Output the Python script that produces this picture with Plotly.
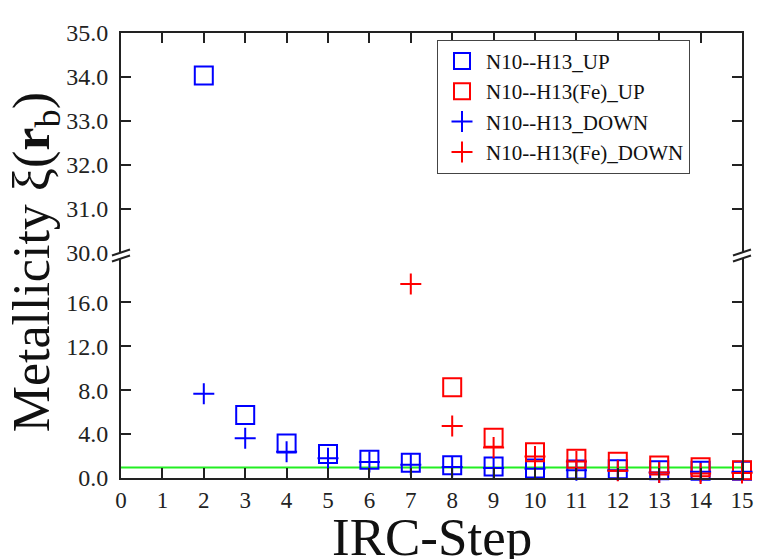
import plotly.graph_objects as go

# ---- data ----
steps_blue = [2, 3, 4, 5, 6, 7, 8, 9, 10, 11, 12, 13, 14, 15]
n10_h13_up = [34.03, 5.75, 3.14, 2.19, 1.66, 1.39, 1.16, 1.04, 0.86, 0.77, 0.80, 0.71, 0.67, 0.67]
n10_h13_down = [7.67, 3.61, 2.40, 1.81, 1.45, 1.21, 1.00, 0.92, 0.85, 0.70, 0.71, 0.50, 0.56, 0.56]
steps_fe_up = [8, 9, 10, 11, 12, 13, 14, 15]
n10_h13_fe_up = [8.27, 3.67, 2.34, 1.75, 1.48, 1.15, 0.98, 0.71]
steps_fe_down = [7, 8, 9, 10, 11, 12, 13, 14, 15]
n10_h13_fe_down = [17.66, 4.74, 2.78, 1.96, 1.51, 0.65, 0.50, 0.40, 0.45]
ref_x = [0, 15]
ref_y = [0.95, 0.95]

lower_range = [0, 20]
upper_range = [30, 35]
lower_ticks = [0, 4, 8, 12, 16]
upper_ticks = [30, 31, 32, 33, 34, 35]
x_ticks = list(range(0, 16))

FONT = "Liberation Serif"
BLUE = "#0000ff"
RED = "#ff0000"
AX = "#222222"

series = [
    ("N10--H13_UP", steps_blue, n10_h13_up, BLUE, "square-open", 18),
    ("N10--H13(Fe)_UP", steps_fe_up, n10_h13_fe_up, RED, "square-open", 18),
    ("N10--H13_DOWN", steps_blue, n10_h13_down, BLUE, "cross-thin-open", 15),
    ("N10--H13(Fe)_DOWN", steps_fe_down, n10_h13_fe_down, RED, "cross-thin-open", 15),
]

fig = go.Figure()
fig.add_trace(go.Scatter(x=ref_x, y=ref_y, mode="lines", line=dict(color="#22ee22", width=2),
                         showlegend=False, hoverinfo="skip", xaxis="x", yaxis="y"))

for name, xs, ys, col, sym, sz in series:
    lo = [(x, y) for x, y in zip(xs, ys) if y <= lower_range[1]]
    hi = [(x, y) for x, y in zip(xs, ys) if y >= upper_range[0]]
    mk = dict(symbol=sym, size=sz, color=col, line=dict(color=col, width=2))
    fig.add_trace(go.Scatter(x=[p[0] for p in lo], y=[p[1] for p in lo], mode="markers",
                             name=name, marker=mk, legendgroup=name, cliponaxis=False,
                             xaxis="x", yaxis="y"))
    if hi:
        fig.add_trace(go.Scatter(x=[p[0] for p in hi], y=[p[1] for p in hi], mode="markers",
                                 name=name, marker=mk, legendgroup=name, showlegend=False,
                                 cliponaxis=False, xaxis="x2", yaxis="y2"))

# page has an 8px body margin, so the figure is drawn 8px smaller and offset
OFF = 8
H_PLOT = 456
low_top = 225 / H_PLOT
up_bot = (478 - 247) / H_PLOT

common_y = dict(showline=True, linecolor=AX, linewidth=2, mirror="ticks", ticks="inside",
                ticklen=10, tickwidth=2, tickcolor=AX, showgrid=False, zeroline=False,
                tickformat=".1f", tickfont=dict(family=FONT, size=24, color=AX),
                ticklabelstandoff=6)

fig.update_layout(
    width=771 - OFF, height=559 - OFF,
    margin=dict(l=121 - OFF, r=29, t=22 - OFF, b=81),
    paper_bgcolor="white", plot_bgcolor="white",
    showlegend=True,
    xaxis=dict(range=[0, 15], domain=[0, 1], anchor="y", tickvals=x_ticks, showline=True,
               linecolor=AX, linewidth=2, ticks="inside", ticklen=10, tickwidth=2, tickcolor=AX,
               showgrid=False, zeroline=False, tickfont=dict(family=FONT, size=23, color=AX),
               ticklabelstandoff=0),
    xaxis2=dict(range=[0, 15], domain=[0, 1], anchor="y2", side="top", tickvals=x_ticks,
                showticklabels=False, showline=True, linecolor=AX, linewidth=2, ticks="inside",
                ticklen=10, tickwidth=2, tickcolor=AX, showgrid=False, zeroline=False),
    yaxis=dict(range=lower_range, domain=[0, low_top], anchor="x", tickvals=lower_ticks, **common_y),
    yaxis2=dict(range=upper_range, domain=[up_bot, 1], anchor="x2", tickvals=upper_ticks, **common_y),
    legend=dict(x=(437 - 121) / 621, y=(478 - 29) / H_PLOT, xanchor="left", yanchor="top",
                bgcolor="white", bordercolor="#444444", borderwidth=1,
                font=dict(family=FONT, size=21, color="#111111"), itemwidth=38,
                tracegroupgap=0),
)

# axis break marks
shapes = []
for xp in (0, 1):
    for yp in (up_bot, low_top):
        shapes.append(dict(type="line", xref="paper", yref="paper", xsizemode="pixel",
                           ysizemode="pixel", xanchor=xp, yanchor=yp, x0=-9, x1=9, y0=-3, y1=3,
                           line=dict(color=AX, width=2)))
fig.update_layout(shapes=shapes)

fig.add_annotation(text="IRC-Step", xref="paper", yref="paper", x=0.5, y=0, yanchor="top",
                   yshift=-28, showarrow=False, font=dict(family=FONT, size=53, color="#111111"))
fig.add_annotation(text="Metallicity ξ(<b>r</b><sub>b</sub>)", xref="paper", yref="paper",
                   x=0, y=(478 - 257) / H_PLOT, xanchor="center", yanchor="middle", xshift=-86,
                   textangle=-90, showarrow=False, font=dict(family=FONT, size=52, color="#111111"))

fig.write_html("out.html")
